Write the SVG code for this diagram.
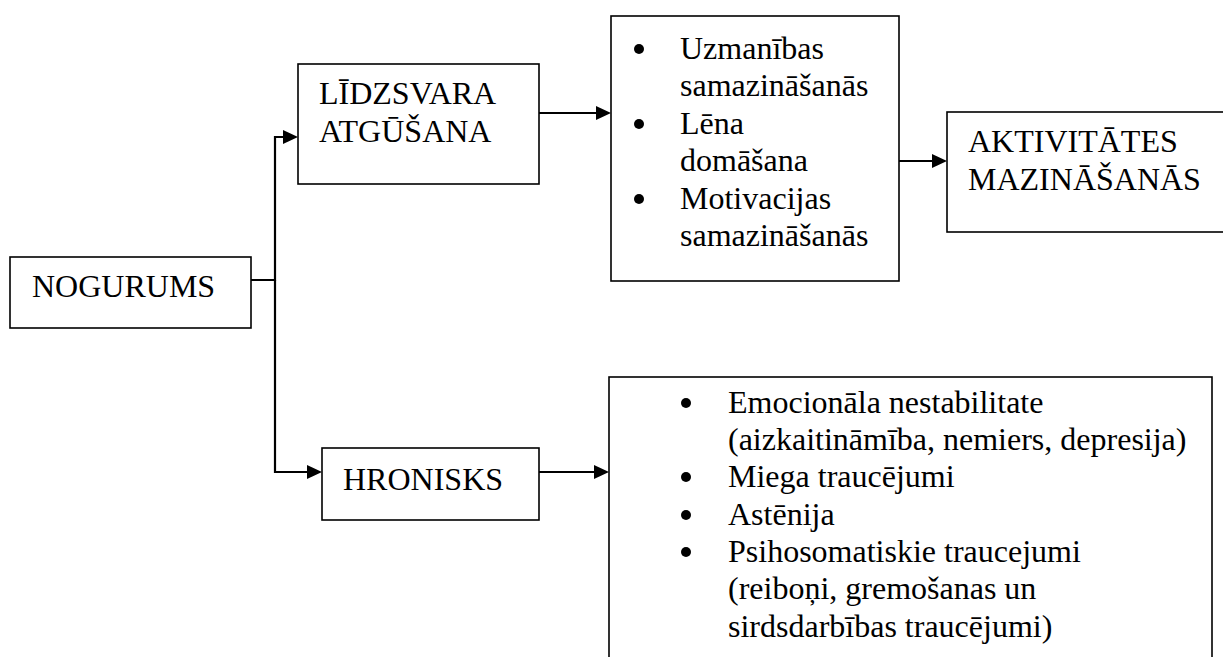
<svg xmlns="http://www.w3.org/2000/svg" width="1223" height="657" viewBox="0 0 1223 657">
<style>
.box{fill:#fff;stroke:#000;stroke-width:1.6}
text{font-family:'Liberation Serif','Times New Roman',Times,serif;font-size:32px;fill:#000}
.c{fill:none;stroke:#000;stroke-width:2.2}
.b{fill:#000}
</style>
<defs>
<marker id="ah" viewBox="0 0 15 14" refX="11" refY="7" markerWidth="15" markerHeight="14" markerUnits="userSpaceOnUse" orient="auto">
<path d="M0,0 L15,7 L0,14 z" fill="#000"/>
</marker>
</defs>
<rect width="1223" height="657" fill="#fff"/>
<g id="connectors">
<path class="c" d="M251,280 H275 V137 H294" marker-end="url(#ah)"/>
<path class="c" d="M275,280 V472 H318" marker-end="url(#ah)"/>
<path class="c" d="M539,113 H607" marker-end="url(#ah)"/>
<path class="c" d="M899,161 H943" marker-end="url(#ah)"/>
<path class="c" d="M539,472 H605" marker-end="url(#ah)"/>
</g>
<g id="nogurums">
<rect class="box" x="10" y="257" width="241" height="71"/>
<text x="32" y="297">NOGURUMS</text>
</g>
<g id="lidzsvara">
<rect class="box" x="298" y="64" width="241" height="120"/>
<text x="319" y="104">LĪDZSVARA</text>
<text x="319" y="142">ATGŪŠANA</text>
</g>
<g id="hronisks">
<rect class="box" x="322" y="448" width="217" height="72"/>
<text x="343" y="490">HRONISKS</text>
</g>
<g id="simptomi1">
<rect class="box" x="611" y="16" width="288" height="265"/>
<circle class="b" cx="639" cy="49" r="5"/>
<circle class="b" cx="639" cy="124" r="5"/>
<circle class="b" cx="639" cy="199" r="5"/>
<text x="680" y="59">Uzmanības</text>
<text x="680" y="96">samazināšanās</text>
<text x="680" y="134">Lēna</text>
<text x="680" y="171">domāšana</text>
<text x="680" y="209">Motivacijas</text>
<text x="680" y="246">samazināšanās</text>
</g>
<g id="aktivitates">
<rect class="box" x="947" y="112" width="290" height="120"/>
<text x="968" y="152">AKTIVITĀTES</text>
<text x="968" y="190">MAZINĀŠANĀS</text>
</g>
<g id="simptomi2">
<rect class="box" x="609" y="377" width="603" height="300"/>
<circle class="b" cx="686" cy="403" r="5"/>
<circle class="b" cx="686" cy="477" r="5"/>
<circle class="b" cx="686" cy="515" r="5"/>
<circle class="b" cx="686" cy="552" r="5"/>
<text x="728" y="413">Emocionāla nestabilitate</text>
<text x="728" y="450">(aizkaitināmība, nemiers, depresija)</text>
<text x="728" y="487">Miega traucējumi</text>
<text x="728" y="525">Astēnija</text>
<text x="728" y="562">Psihosomatiskie traucejumi</text>
<text x="728" y="599">(reiboņi, gremošanas un</text>
<text x="728" y="637">sirdsdarbības traucējumi)</text>
</g>
</svg>
